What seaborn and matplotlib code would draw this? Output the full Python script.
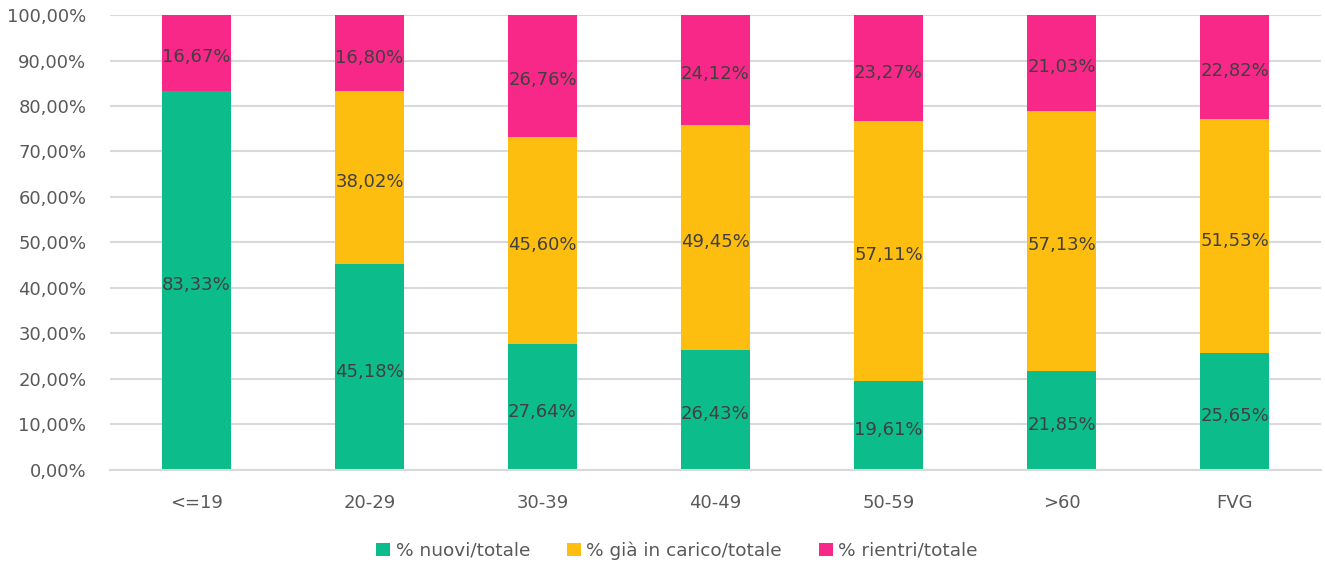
import matplotlib
matplotlib.use("Agg")
import matplotlib.pyplot as plt
import seaborn as sns
import numpy as np
from matplotlib.patches import Patch
from matplotlib.ticker import FuncFormatter

categories = ["<=19", "20-29", "30-39", "40-49", "50-59", ">60", "FVG"]
nuovi = [83.33, 45.18, 27.64, 26.43, 19.61, 21.85, 25.65]
gia_in_carico = [0.0, 38.02, 45.60, 49.45, 57.11, 57.13, 51.53]
rientri = [16.67, 16.80, 26.76, 24.12, 23.27, 21.03, 22.82]
series_names = ["% nuovi/totale", "% già in carico/totale", "% rientri/totale"]
colors = ["#0CBC8B", "#FDBE0F", "#F72888"]

sns.set_theme(style="white")
plt.rcParams["font.family"] = ["DejaVu Sans"]

fig = plt.figure(figsize=(13.25, 5.64), dpi=100)
ax = fig.add_axes([0.083, 0.1667, 0.914, 0.8067])

series = [nuovi, gia_in_carico, rientri]
bottom = np.zeros(len(categories))
for vals, col in zip(series, colors):
    vals = np.array(vals)
    sns.barplot(x=categories, y=vals, bottom=bottom, color=col, width=0.4,
                ax=ax, linewidth=0, saturation=1)
    for i, v in enumerate(vals):
        if v > 0:
            ax.text(i, bottom[i] + v / 2 - 1.0, f"{v:.2f}%".replace(".", ","),
                    ha="center", va="center", fontsize=13, color="#404040")
    bottom = bottom + vals

ax.set_ylim(0, 100)
ax.set_xlim(-0.5, len(categories) - 0.5)
ax.set_yticks(np.arange(0, 101, 10))
ax.yaxis.set_major_formatter(FuncFormatter(lambda v, p: f"{v:.2f}%".replace(".", ",")))
ax.grid(axis="y", color="#D9D9D9", linewidth=1.5)
ax.set_axisbelow(True)
for s in ["top", "right", "left"]:
    ax.spines[s].set_visible(False)
ax.spines["bottom"].set_color("#D9D9D9")
ax.spines["bottom"].set_linewidth(1.5)
ax.tick_params(axis="both", length=0, labelsize=13, colors="#595959")
ax.tick_params(axis="x", pad=17)
ax.tick_params(axis="y", pad=17)
ax.set_xlabel("")
ax.set_ylabel("")

handles = [Patch(facecolor=c, edgecolor="none") for c in colors]
fig.legend(handles, series_names, loc="lower center", bbox_to_anchor=(0.511, -0.022),
           ncol=3, frameon=False, fontsize=13.3, handlelength=0.75, handleheight=0.75,
           handletextpad=0.3, columnspacing=2.0, labelcolor="#595959")

fig.savefig("out.png", dpi=100)
